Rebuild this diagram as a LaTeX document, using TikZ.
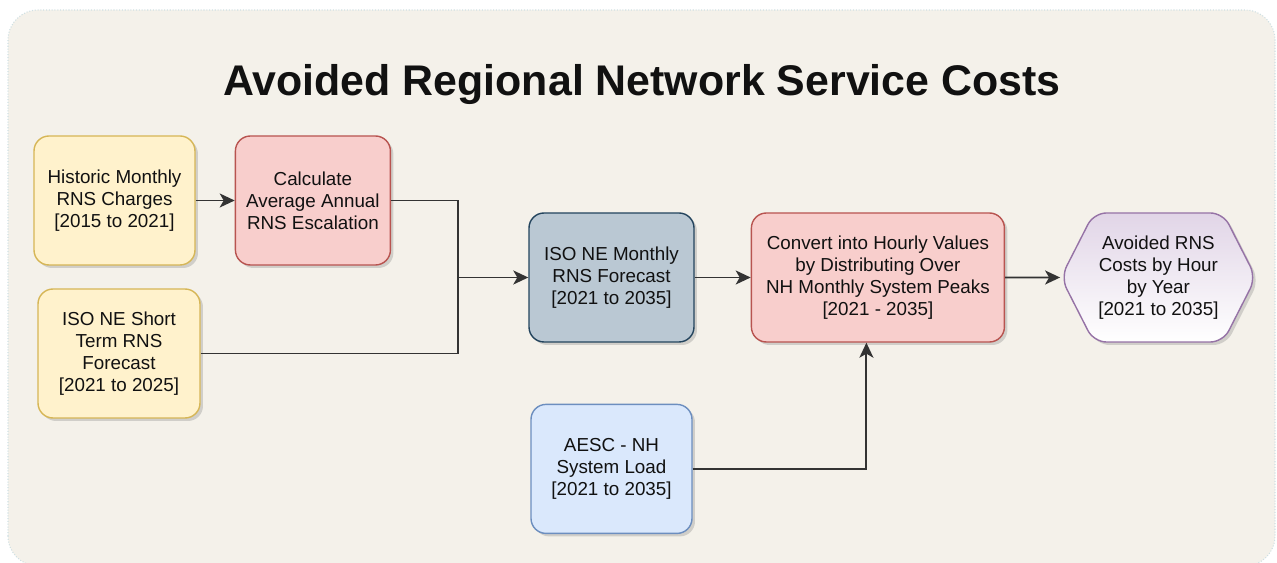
\documentclass[tikz,border=0pt]{standalone}
\usepackage{fontspec}
\setmainfont{Liberation Sans}
\usetikzlibrary{arrows.meta,positioning,shapes.symbols,shadows,backgrounds}
\definecolor{canvasfill}{HTML}{F4F1EA}
\definecolor{canvasline}{HTML}{CFE0E3}
\definecolor{inyellow}{HTML}{FFF2CC}
\definecolor{inyellowline}{HTML}{D6B656}
\definecolor{stepred}{HTML}{F8CECC}
\definecolor{stepredline}{HTML}{B85450}
\definecolor{fcgray}{HTML}{BAC8D3}
\definecolor{fcgrayline}{HTML}{23445D}
\definecolor{loadblue}{HTML}{DAE8FC}
\definecolor{loadblueline}{HTML}{6C8EBF}
\definecolor{outpurple}{HTML}{E1D5E7}
\definecolor{outpurpleline}{HTML}{9673A6}
\definecolor{linegray}{HTML}{333333}
\definecolor{textblack}{HTML}{111111}

\begin{document}
\begin{tikzpicture}[
  >=Stealth,
  font=\fontsize{10.7}{12.5}\selectfont,
  box/.style={rectangle, rounded corners=0.3cm, line width=0.8pt, minimum height=2.58cm, inner sep=0pt, align=center, text=textblack, drop shadow={shadow xshift=1.7pt, shadow yshift=-1.7pt, opacity=0.3}},
  inbox/.style={box, fill=inyellow, draw=inyellowline},
  calcbox/.style={box, fill=stepred, draw=stepredline},
  fcbox/.style={box, fill=fcgray, draw=fcgrayline},
  loadbox/.style={box, fill=loadblue, draw=loadblueline},
  outbox/.style={box, signal, signal to=west and east, signal pointer angle=126, rounded corners=0.25cm, top color=outpurple, bottom color=white, draw=outpurpleline},
  title/.style={font=\fontsize{24.4}{29}\selectfont\bfseries, text=textblack, anchor=base},
  line/.style={draw=linegray, line width=1.1pt},
  flow/.style={line, -{Stealth[length=0.3cm, width=0.28cm, inset=0.08cm]}}
]
  \useasboundingbox (0,0) rectangle (25.54,11.26);
  \begin{scope}[on background layer]
    \path[fill=canvasfill, draw=canvasline, densely dotted, line width=0.6pt, rounded corners=0.6cm] (0.16,-0.06) rectangle (25.5,11.06);
  \end{scope}

  \node[title] (head) at (12.84,9.34) {Avoided Regional Network Service Costs};

  \node[inbox, minimum width=3.22cm] (hist) at (2.29,7.25) {Historic Monthly\\RNS Charges\\{[2015 to 2021]}};
  \node[calcbox, minimum width=3.1cm, right=0.78cm of hist] (calc) {Calculate\\Average Annual\\RNS Escalation};
  \node[inbox, minimum width=3.24cm] (short) at (2.38,4.19) {ISO NE Short\\Term RNS\\Forecast\\{[2021 to 2025]}};
  \node[fcbox, minimum width=3.3cm] (month) at (12.23,5.71) {ISO NE Monthly\\RNS Forecast\\{[2021 to 2035]}};
  \node[calcbox, minimum width=5.06cm, right=1.12cm of month] (conv) {Convert into Hourly Values\\by Distributing Over\\NH Monthly System Peaks\\{[2021 - 2035]}};
  \node[outbox, minimum width=3.9cm, right=1.1cm of conv] (avoid) {Avoided RNS\\Costs by Hour\\by Year\\{[2021 to 2035]}};
  \node[loadbox, minimum width=3.22cm, below=1.22cm of month] (aesc) {AESC - NH\\System Load\\{[2021 to 2035]}};

  \coordinate (join) at ([xshift=-1.4cm]month.west);

  \draw[flow] (hist) -- (calc);
  \draw[line] (calc.east) -| (join);
  \draw[line] (short.east) -| (join);
  \draw[flow] (join) -- (month);
  \draw[flow] (month) -- (conv);
  \draw[flow] (conv) -- (avoid);
  \draw[flow] (aesc.east) -| ([xshift=-0.23cm]conv.south);
\end{tikzpicture}
\end{document}
